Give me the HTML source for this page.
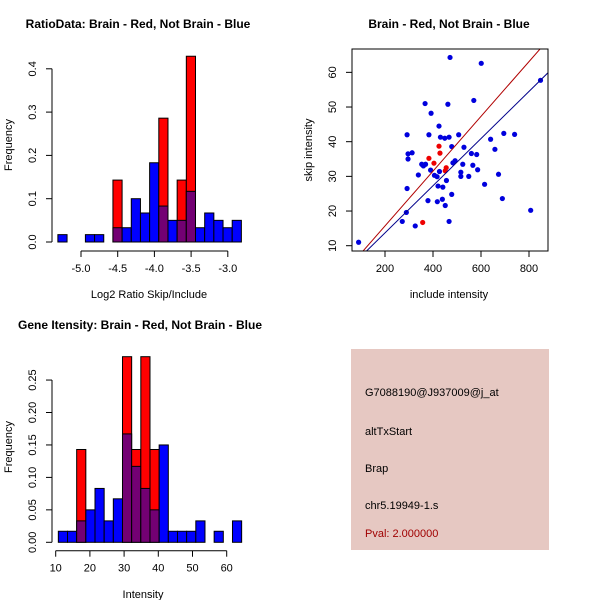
<!DOCTYPE html>
<html><head><meta charset="utf-8"><style>
body{margin:0;background:#fff}
svg{display:block;font-family:"Liberation Sans",sans-serif}
text{font-size:11px;fill:#000}
.t{font-weight:bold;font-size:12px}
</style></head><body>
<svg id="s" width="600" height="600" viewBox="0 0 600 600">
<text class="t" x="138" y="28" text-anchor="middle">RatioData: Brain - Red, Not Brain - Blue</text>
<text x="149" y="298" text-anchor="middle">Log2 Ratio Skip/Include</text>
<text x="12" y="145" text-anchor="middle" transform="rotate(-90 12 145)">Frequency</text>
<text class="t" x="449" y="28" text-anchor="middle">Brain - Red, Not Brain - Blue</text>
<text x="449" y="298" text-anchor="middle">include intensity</text>
<text x="312" y="150" text-anchor="middle" transform="rotate(-90 312 150)">skip intensity</text>
<text class="t" x="140" y="329" text-anchor="middle">Gene Itensity: Brain - Red, Not Brain - Blue</text>
<text x="143" y="598" text-anchor="middle">Intensity</text>
<text x="12" y="447" text-anchor="middle" transform="rotate(-90 12 447)">Frequency</text>
<rect x="351" y="349" width="198" height="201" fill="#e6c8c2"/>
<text x="365" y="396">G7088190@J937009@j_at</text>
<text x="365" y="435">altTxStart</text>
<text x="365" y="472">Brap</text>
<text x="365" y="509">chr5.19949-1.s</text>
<text x="365" y="537" fill="#a00000" style="fill:#a00000">Pval: 2.000000</text>
<g id="g"></g>
</svg>
<script>
// Ratio histogram data
const ratioBinStart = -5.315, ratioBinWidth = 0.125;
const ratioBlue = [0.017,0,0,0.017,0.017,0,0.033,0.033,0.1,0.067,0.183,0.083,0.05,0.05,0.117,0.033,0.067,0.05,0.033,0.05];
const ratioRed  = [0,0,0,0,0,0,0.143,0,0,0,0,0.286,0,0.143,0.429,0,0,0,0,0];
const ratioXTicks = [-5.0,-4.5,-4.0,-3.5,-3.0];
const ratioXLabels = ["-5.0","-4.5","-4.0","-3.5","-3.0"];
const ratioYTicks = [0,0.1,0.2,0.3,0.4];
const ratioYLabels = ["0.0","0.1","0.2","0.3","0.4"];
// Gene intensity histogram data
const geneBinStart = 10.77, geneBinWidth = 2.68;
const geneBlue = [0.017,0.017,0.033,0.05,0.083,0.033,0.067,0.167,0.117,0.083,0.05,0.15,0.017,0.017,0.017,0.033,0,0.017,0,0.033];
const geneRed  = [0,0,0.143,0,0,0,0,0.286,0.143,0.286,0.143,0,0,0,0,0,0,0,0,0];
const geneXTicks = [10,20,30,40,50,60];
const geneXLabels = ["10","20","30","40","50","60"];
const geneYTicks = [0,0.05,0.10,0.15,0.20,0.25];
const geneYLabels = ["0.00","0.05","0.10","0.15","0.20","0.25"];
// Scatter data
const blueX = [90,292,296,313,296,292,289,272,326,339,353,360,369,367,392,383,379,390,406,417,421,425,431,449,467,462,471,427,418,439,441,451,456,467,478,478,483,492,507,516,516,524,529,549,560,566,570,582,586,601,615,640,658,673,689,695,740,807,848];
const blueY = [11,42,36.5,36.8,35,26.5,19.6,17,15.7,30.4,33.5,33,33.5,51,48.2,42,23,31.8,30.3,29.9,27.2,44.5,41.3,41,41.3,50.8,64.3,31.4,22.7,23.4,26.9,21.6,28.8,17,24.8,38.6,33.9,34.5,42,31.2,30,33.5,38.4,30,36.6,33.2,51.9,36.3,31.9,62.6,27.7,40.7,37.8,30.6,23.6,42.4,42.1,20.2,57.7];
const redX = [383,404,425,429,451,455,357];
const redY = [35.2,33.8,38.7,36.7,31.6,32.5,16.7];
const redFit = [-0.1,0.079];
const blueFit = [0.1,0.068];
const scXTicks = [200,400,600,800];
const scXLabels = ["200","400","600","800"];
const scYTicks = [10,20,30,40,50,60];
const scYLabels = ["10","20","30","40","50","60"];

const NS="http://www.w3.org/2000/svg", G=document.getElementById('g');
function mk(tag,at,name){const e=document.createElementNS(NS,tag);for(const k in at)e.setAttribute(k,at[k]);


G.appendChild(e);return e;}
function txt(x,y,s,name,rot){const e=mk('text',{x:x,y:y,'text-anchor':'middle'},name);e.textContent=s;if(rot)e.setAttribute('transform','rotate(-90 '+x+' '+y+')');return e;}

function hist(pre,bs,bw,blue,red,xt,xl,yt,yl,xs,ys,axY,axX){
  for(let i=0;i<blue.length;i++){
    const x0=xs(bs+i*bw),x1=xs(bs+(i+1)*bw),b=blue[i],r=red[i];
    const hi=Math.max(b,r),lo=Math.min(b,r);
    if(hi>0)mk('rect',{x:x0,y:ys(hi),width:x1-x0,height:ys(0)-ys(hi),fill:r>b?'#ff0000':'#0000ff',stroke:'#000','stroke-width':1},pre+'-bar-'+i);
    if(b>0&&r>0)mk('rect',{x:x0,y:ys(lo),width:x1-x0,height:ys(0)-ys(lo),fill:'#730073',stroke:'#000','stroke-width':1},pre+'-overlap-'+i);
  }
  mk('line',{x1:xs(xt[0]),x2:xs(xt[xt.length-1]),y1:axY,y2:axY,stroke:'#000'},pre+'-x-axis');
  xt.forEach((v,i)=>{mk('line',{x1:xs(v),x2:xs(v),y1:axY,y2:axY+6,stroke:'#000'},pre+'-x-tick');txt(xs(v),axY+21,xl[i],pre+'-x-label');});
  mk('line',{x1:axX,x2:axX,y1:ys(yt[0]),y2:ys(yt[yt.length-1]),stroke:'#000'},pre+'-y-axis');
  yt.forEach((v,i)=>{mk('line',{x1:axX,x2:axX-6,y1:ys(v),y2:ys(v),stroke:'#000'},pre+'-y-tick');txt(axX-16,ys(v),yl[i],pre+'-y-label',true);});
}
hist('ratio',ratioBinStart,ratioBinWidth,ratioBlue,ratioRed,ratioXTicks,ratioXLabels,ratioYTicks,ratioYLabels,
  v=>81+(v+5)*73.4, v=>242-v*433, 251, 52);
hist('gene',geneBinStart,geneBinWidth,geneBlue,geneRed,geneXTicks,geneXLabels,geneYTicks,geneYLabels,
  v=>55.7+(v-10)*3.42, v=>542.3-v*649, 550.7, 52);

// scatter
const sx=v=>385+(v-200)*0.24, sy=v=>245.7-(v-10)*3.467;
const L=352,R=548,T=49,B=251;
mk('clipPath',{id:'cp'},'scatter-clip').appendChild(Object.assign(document.createElementNS(NS,'rect'),{})).setAttribute('x',L);
const cr=document.querySelector('#cp rect');cr.setAttribute('y',T);cr.setAttribute('width',R-L);cr.setAttribute('height',B-T);


blueX.forEach((v,i)=>mk('circle',{cx:sx(v),cy:sy(blueY[i]),r:2.6,fill:'#0000dd'},'blue-point'));
redX.forEach((v,i)=>mk('circle',{cx:sx(v),cy:sy(redY[i]),r:2.6,fill:'#ee0000'},'red-point'));
[[redFit,'#b00000','red-fit-line'],[blueFit,'#00008b','blue-fit-line']].forEach(([f,c,n])=>{
  mk('line',{x1:sx(0),y1:sy(f[0]),x2:sx(1000),y2:sy(f[0]+f[1]*1000),stroke:c,'clip-path':'url(#cp)'},n);});
mk('rect',{x:L,y:T,width:R-L,height:B-T,fill:'none',stroke:'#000'},'scatter-box');
scXTicks.forEach((v,i)=>{mk('line',{x1:sx(v),x2:sx(v),y1:B,y2:B+6,stroke:'#000'},'scatter-x-tick');txt(sx(v),B+21,scXLabels[i],'scatter-x-label');});
scYTicks.forEach((v,i)=>{mk('line',{x1:L,x2:L-6,y1:sy(v),y2:sy(v),stroke:'#000'},'scatter-y-tick');txt(L-16,sy(v),scYLabels[i],'scatter-y-label',true);});
</script>
</body></html>
